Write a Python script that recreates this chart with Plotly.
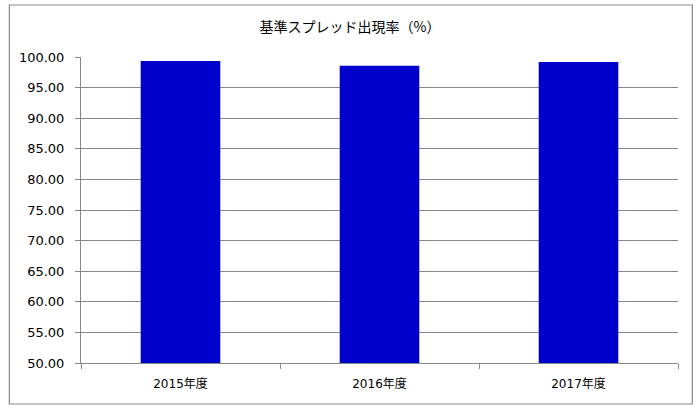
import plotly.graph_objects as go

categories = ["2015年度", "2016年度", "2017年度"]
rates = [99.36, 98.56, 99.20]
y_ticks = [50, 55, 60, 65, 70, 75, 80, 85, 90, 95, 100]
y_tick_labels = ["%.2f" % v for v in y_ticks]

font_family = "Verdana, 'DejaVu Sans', 'Noto Sans CJK JP', sans-serif"
grid_color = "#878787"

fig = go.Figure()
fig.add_trace(go.Bar(
    x=categories,
    y=rates,
    marker=dict(color="#0000CC", line=dict(width=0)),
    width=0.4,
))

fig.update_layout(
    width=700,
    height=409,
    margin=dict(l=80.5, r=22.3, t=56.7, b=46),
    paper_bgcolor="white",
    plot_bgcolor="white",
    showlegend=False,
    font=dict(family=font_family, size=12, color="black"),
    title=dict(
        text="基準スプレッド出現率（%）",
        x=0.5, xanchor="center",
        y=1 - 27 / 409, yanchor="middle",
        font=dict(family="'Noto Sans CJK JP', sans-serif", size=14, color="black"),
    ),
    bargap=0.6,
)

fig.update_yaxes(
    range=[50, 100],
    tickvals=y_ticks,
    ticktext=y_tick_labels,
    showgrid=True,
    gridcolor=grid_color,
    gridwidth=1,
    showline=True,
    linecolor=grid_color,
    linewidth=1,
    ticks="outside",
    ticklen=5,
    tickcolor=grid_color,
    ticklabelstandoff=8,
    zeroline=False,
    tickfont=dict(family=font_family, size=13),
)

fig.update_xaxes(
    showline=True,
    linecolor=grid_color,
    linewidth=1,
    ticks="outside",
    tickson="boundaries",
    ticklen=5,
    tickcolor=grid_color,
    ticklabelstandoff=10,
    showgrid=False,
    tickfont=dict(family=font_family, size=12),
)

# outer chart border
fig.add_shape(
    type="rect", xref="paper", yref="paper",
    x0=-0.12, x1=1.024, y0=-0.134, y1=1.17,
    line=dict(color=grid_color, width=1.2),
    fillcolor="rgba(0,0,0,0)",
    layer="below",
)

fig.write_html(
    "out.html",
    config={"displayModeBar": False},
    post_script="document.body.style.margin='0';",
)
